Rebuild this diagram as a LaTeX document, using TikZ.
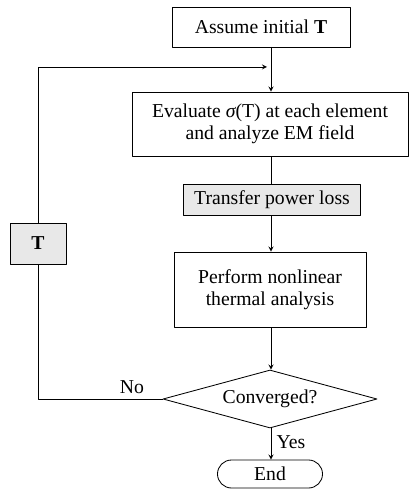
\documentclass[tikz,border=0pt]{standalone}
\usepackage{fontspec}
\setmainfont{Liberation Serif}
\usetikzlibrary{shapes.geometric,arrows}
\begin{document}
\begin{tikzpicture}[x=0.025cm, y=-0.025cm, font=\fontsize{14}{16}\selectfont, line join=round, line cap=round, >=stealth, line width=0.6pt,
		box/.style={draw, align=center, inner sep=0pt},
		grey/.style={box, fill=gray!18}]
				\useasboundingbox (0,0) rectangle (409,490);
				\node[box, minimum width=4.45cm, minimum height=1cm] (assume) at (261,27) {Assume initial \textbf{T}};
				\node[box, minimum width=6.9cm, minimum height=1.6cm] (evaluate) at (270,124) {Evaluate {\itshape σ}(T) at each element\\and analyze EM field};
				\node[grey, minimum width=4.425cm, minimum height=0.775cm] (transfer) at (272,200) {Transfer power loss};
				\node[box, minimum width=4.8cm, minimum height=1.875cm] (perform) at (270,289.5) {Perform nonlinear\\thermal analysis};
				\node[box, shape=diamond, aspect=3.7, minimum width=5.35cm, minimum height=1.45cm] (conv) at (270,399) {Converged?};
				\node[box, rounded corners=0.35cm, minimum width=2.625cm, minimum height=0.7cm] (stop) at (270,474) {End};
				\node[grey, minimum width=1.4cm, minimum height=1.025cm] (tbox) at (38,243.5) {\textbf{T}};
				\node (no) at (132,387) {No};
				\node (yes) at (291,442) {Yes};
				\coordinate (axis) at (271,0);
				\coordinate (loop) at (267,67);
				\draw[->] (assume.south -| axis) -- (evaluate.north -| axis);
				\draw (evaluate.south -| axis) -- (transfer.north -| axis);
				\draw[->] (transfer.south -| axis) -- (perform.north -| axis);
				\draw[->] (perform.south -| axis) -- (conv.north -| axis);
				\draw[->] (conv.south -| axis) -- (stop.north -| axis);
				\draw (conv.west) -| (tbox.south);
				\draw[->] (tbox.north) |- (loop);
		\end{tikzpicture}
\end{document}
